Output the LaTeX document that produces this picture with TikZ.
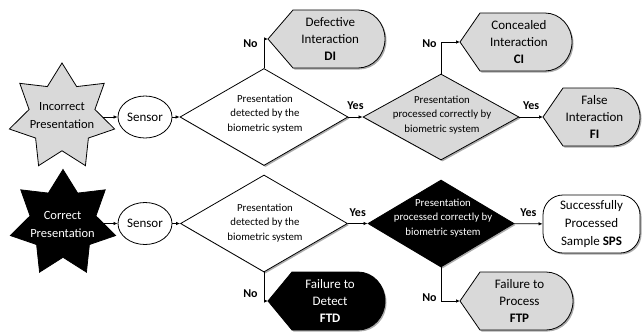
\documentclass[tikz,border=0pt]{standalone}
\usepackage{fontspec}
\setmainfont{Carlito}
\usetikzlibrary{shapes.geometric,shadows,arrows.meta}
\newcommand{\dispshape}[8]{% name, left x, right x, centre y, slant, fill, text colour, text
  \path[draw, fill=#6, shd] (#2,#4) -- ({#2+#5},{#4-29}) -- ({#3-27},{#4-29})
    arc[start angle=90, end angle=-90, x radius=27pt, y radius=29pt]
    -- ({#2+#5},{#4+29}) -- cycle;
  \coordinate (#1in) at (#2,#4);
  \node[disptext, text=#7] (#1) at ({(#2+#5*0.3+#3)/2},#4) {#8};
}
\begin{document}
\begin{tikzpicture}[x=1pt,y=-1pt,
  line width=0.8pt,
  arr/.style={-{Latex[length=4pt,width=3.5pt]}, line width=0.7pt},
  shd/.style={drop shadow={shadow xshift=1.5pt,shadow yshift=-1.5pt,fill=black!55,opacity=0.6}},
  dia/.style={diamond, draw, inner sep=0pt, shd},
  diatext/.style={align=center, inner sep=0pt, font=\fontsize{10.8}{14.5}\selectfont},
  disptext/.style={align=center, inner sep=0pt, font=\fontsize{13}{17}\selectfont},
  lbl/.style={font=\bfseries\fontsize{12}{14}\selectfont, inner sep=0pt},
  starshp/.style={star, star points=7, star point ratio=1.6, minimum size=108pt, inner sep=0pt, draw},
  startext/.style={align=center, inner sep=0pt, font=\fontsize{12.5}{18}\selectfont},
  sensor/.style={ellipse, draw, minimum width=54pt, minimum height=42pt, inner sep=0pt, font=\fontsize{13}{15}\selectfont}
]
\useasboundingbox (0,0) rectangle (642,335);

% ---------- top row ----------
\node[starshp, fill=black!15] (star1) at (62,117) {};
\node[startext] (star1t) at (62,116) {Incorrect\\Presentation};
\node[sensor] (sens1) at (145,117) {Sensor};
\node[dia, minimum width=168pt, minimum height=97pt, fill=white] (d1) at (264,117) {};
\node[diatext] (d1t) at (265,114) {Presentation\\detected by the\\biometric system};
\node[dia, minimum width=156pt, minimum height=86pt, fill=black!15] (d2) at (441,117) {};
\node[diatext] (d2t) at (442,115) {Presentation\\processed correctly by\\biometric system};

\dispshape{DI}{268}{385}{39}{25}{black!15}{black}{Defective\\Interaction\\\textbf{DI}}
\dispshape{CI}{460}{572}{42}{20}{black!15}{black}{Concealed\\Interaction\\\textbf{CI}}
\dispshape{FI}{543}{640}{117}{20}{black!15}{black}{False\\Interaction\\\textbf{FI}}

\draw[arr] (star1) -- (sens1);
\draw[arr] (sens1) -- (d1);
\draw[arr] (d1) -- node[lbl, above=7pt] (y1) {Yes} (d2);
\draw[arr] (d2) -- node[lbl, above=7pt] (y2) {Yes} (FIin);
\draw[arr] (d1.north) |- node[lbl, pos=0.5, anchor=east, xshift=-6pt, yshift=-4.5pt] (n1) {No} (DIin);
\draw[arr] (d2.north) |- node[lbl, pos=0.5, anchor=east, xshift=-4pt, yshift=-1.5pt] (n2) {No} (CIin);

% ---------- bottom row ----------
\node[starshp, fill=black] (star2) at (63,223.5) {};
\node[startext, text=white] (star2t) at (62.5,224) {Correct\\Presentation};
\node[sensor] (sens2) at (145,223.5) {Sensor};
\node[dia, minimum width=167pt, minimum height=97pt, fill=white] (d3) at (264,223.5) {};
\node[diatext] (d3t) at (265,223) {Presentation\\detected by the\\biometric system};
\node[dia, minimum width=146pt, minimum height=87pt, fill=black] (d4) at (441,223.5) {};
\node[diatext, text=white] (d4t) at (443,218) {Presentation\\processed correctly by\\biometric system};
\node[draw, shd, fill=white, rounded corners=20pt, minimum width=97pt, minimum height=58pt,
      inner sep=0pt, align=center, font=\fontsize{13}{18}\selectfont] (sps) at (591.5,224)
      {Successfully\\Processed\\Sample \textbf{SPS}};

\dispshape{FTD}{268}{385}{301}{24}{black}{white}{Failure to\\Detect\\\textbf{FTD}}
\dispshape{FTP}{460}{573}{301}{20}{black!15}{black}{Failure to\\Process\\\textbf{FTP}}

\draw[arr] (star2) -- (sens2);
\draw[arr] (sens2) -- (d3);
\draw[arr] (d3) -- node[lbl, above=7pt] (y3) {Yes} (d4);
\draw[arr] (d4) -- node[lbl, above=7pt] (y4) {Yes} (sps);
\draw[arr] (d3.south) |- node[lbl, pos=0.5, anchor=east, xshift=-6pt, yshift=7pt] (n3) {No} (FTDin);
\draw[arr] (d4.south) |- node[lbl, pos=0.5, anchor=east, xshift=-4pt, yshift=3.5pt] (n4) {No} (FTPin);
\end{tikzpicture}
\end{document}
